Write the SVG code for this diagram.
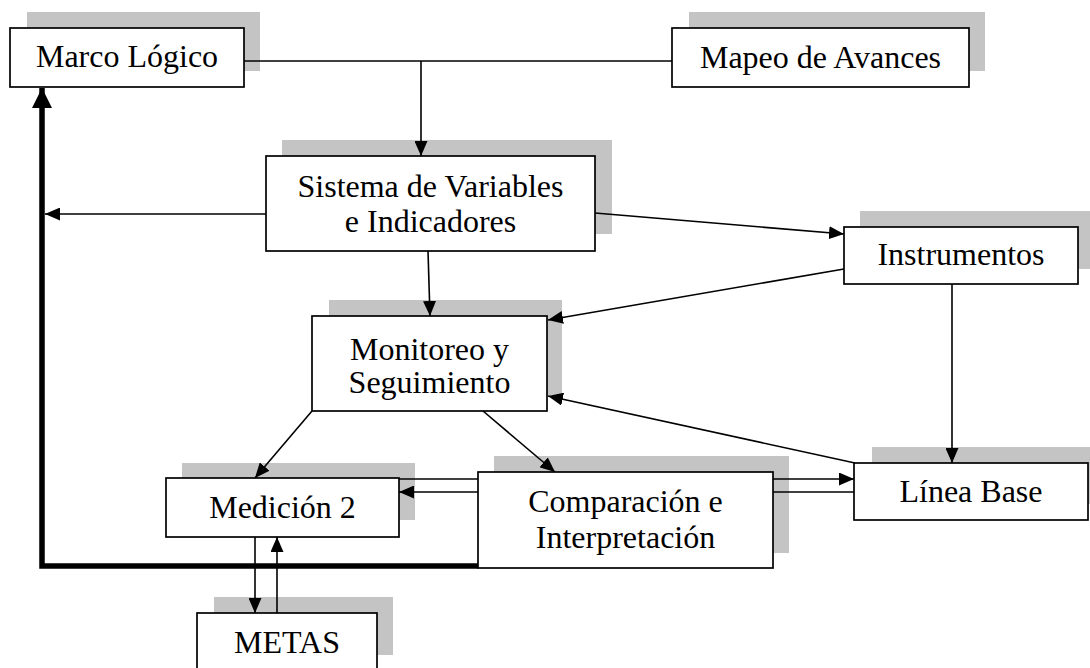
<svg xmlns="http://www.w3.org/2000/svg" width="1090" height="668" viewBox="0 0 1090 668">
<style>
.sh{fill:#c4c4c4;stroke:none}
.bx{fill:#fff;stroke:#000;stroke-width:1.7}
.t{font-family:"Liberation Serif","Times New Roman",serif;font-size:32px;fill:#000;text-anchor:middle}
.c{stroke:#000;stroke-width:1.6;fill:none}
.a{marker-end:url(#ah)}
.thick{stroke:#000;stroke-width:5.5;fill:none;marker-end:url(#ahb)}
</style>
<defs>
<marker id="ah" markerUnits="userSpaceOnUse" markerWidth="15" markerHeight="13" refX="15" refY="6.5" orient="auto" viewBox="0 0 15 13">
<path d="M0,0 L15,6.5 L0,13 z" fill="#000"/>
</marker>
<marker id="ahb" markerUnits="userSpaceOnUse" markerWidth="20" markerHeight="20" refX="20" refY="10" orient="auto" viewBox="0 0 20 20">
<path d="M0,0 L20,10 L0,20 z" fill="#000"/>
</marker>
</defs>
<rect width="1090" height="668" fill="#fff"/>

<g id="marco-logico">
<rect class="sh" x="27" y="12" width="233" height="59"/>
<rect class="bx" x="10" y="28" width="234" height="59"/>
<text class="t" x="127" y="67">Marco Lógico</text>
</g>

<g id="mapeo-avances">
<rect class="sh" x="689" y="12" width="296" height="59"/>
<rect class="bx" x="672" y="28" width="297" height="59"/>
<text class="t" x="820.5" y="68">Mapeo de Avances</text>
</g>

<g id="sistema-variables">
<rect class="sh" x="282" y="140" width="330" height="94"/>
<rect class="bx" x="266" y="156" width="329" height="95"/>
<text class="t" x="430.5" y="197">Sistema de Variables</text>
<text class="t" x="430.5" y="232">e Indicadores</text>
</g>

<g id="instrumentos">
<rect class="sh" x="860" y="211" width="235" height="58"/>
<rect class="bx" x="844" y="227" width="234" height="57"/>
<text class="t" x="961" y="265">Instrumentos</text>
</g>

<g id="monitoreo">
<rect class="sh" x="329" y="300" width="233" height="95"/>
<rect class="bx" x="312" y="316" width="235" height="95"/>
<text class="t" x="429.5" y="360">Monitoreo y</text>
<text class="t" x="429.5" y="393">Seguimiento</text>
</g>

<g id="linea-base">
<rect class="sh" x="872" y="447" width="225" height="57"/>
<rect class="bx" x="854" y="463" width="234" height="57"/>
<text class="t" x="971" y="502">Línea Base</text>
</g>

<g id="medicion-2">
<rect class="sh" x="182" y="463" width="233" height="57"/>
<rect class="bx" x="166" y="478" width="233" height="59"/>
<text class="t" x="282.5" y="518">Medición 2</text>
</g>

<g id="comparacion">
<rect class="sh" x="494" y="456" width="295" height="97"/>
<rect class="bx" x="478" y="472" width="295" height="96"/>
<text class="t" x="625.5" y="512">Comparación e</text>
<text class="t" x="625.5" y="548">Interpretación</text>
</g>

<g id="metas">
<rect class="sh" x="214" y="597" width="179" height="58"/>
<rect class="bx" x="197" y="613" width="180" height="60"/>
<text class="t" x="287" y="653">METAS</text>
</g>

<g id="connectors">
<line class="c" x1="244" y1="61" x2="672" y2="61"/>
<line class="c a" x1="421" y1="61" x2="421" y2="156"/>
<line class="c a" x1="266" y1="214" x2="45" y2="214"/>
<line class="c a" x1="595" y1="213" x2="844" y2="234"/>
<line class="c a" x1="428" y1="251" x2="430" y2="316"/>
<line class="c a" x1="844" y1="269" x2="548" y2="320"/>
<line class="c a" x1="952" y1="284" x2="952" y2="463"/>
<line class="c a" x1="855" y1="463" x2="548" y2="396"/>
<line class="c a" x1="312" y1="411" x2="255" y2="478"/>
<line class="c a" x1="483" y1="411" x2="555" y2="472"/>
<line class="c" x1="399" y1="479" x2="478" y2="479"/>
<line class="c a" x1="478" y1="492" x2="399" y2="492"/>
<line class="c a" x1="773" y1="479" x2="854" y2="479"/>
<line class="c" x1="773" y1="492" x2="854" y2="492"/>
<line class="c a" x1="255" y1="537" x2="255" y2="613"/>
<line class="c a" x1="277" y1="613" x2="277" y2="537"/>
<polyline class="thick" points="478,566 42,566 42,88"/>
</g>
</svg>
